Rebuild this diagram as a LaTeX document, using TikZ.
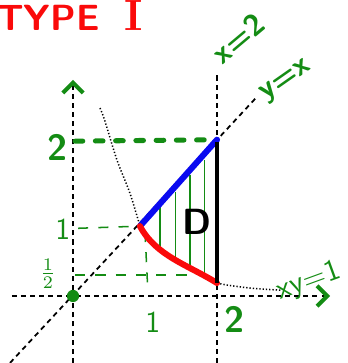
\documentclass[tikz,border=0pt]{standalone}
\usepackage{tikz}
\usetikzlibrary{arrows.meta,calc}
\definecolor{penG}{RGB}{20,140,20}
\definecolor{penR}{RGB}{250,10,10}
\definecolor{penB}{RGB}{10,10,240}

\begin{document}
\begin{tikzpicture}[
  font=\sffamily,
  axis/.style={black,line width=0.7pt,dash pattern=on 2pt off 1.6pt},
  curve/.style={black,line width=0.6pt,dash pattern=on 0.5pt off 0.8pt},
  guide/.style={penG,line width=0.6pt,dash pattern=on 4pt off 4pt},
  guidebold/.style={penG,line width=2pt,line cap=round,dash pattern=on 3pt off 5pt},
  hatch/.style={penG,line width=0.5pt},
  edge/.style={line width=2.4pt,line cap=round},
  tipG/.style={-{Straight Barb[length=4pt,width=8pt,line width=1.6pt,color=penG]}},
  lab/.style={text=penG,inner sep=1pt},
]
\useasboundingbox (-1.014,-0.931) rectangle (3.819,4.111);
% key points
\coordinate (O)   at (0,0);
\coordinate (yb)  at (0,-0.93);
\coordinate (yt)  at (0,3.0);
\coordinate (xl)  at (-0.85,0);
\coordinate (xr)  at (3.57,0);
\coordinate (vb)  at (2,-0.93);
\coordinate (vt)  at (2,3.11);
\coordinate (db)  at (-0.875,-0.93);
\coordinate (dt)  at (2.54,2.75);
\coordinate (P11) at (0.93,0.97);
\coordinate (P22) at (2,2.17);
\coordinate (Ph)  at (2,0.18);
% axes and the lines x=2, y=x
\draw[axis,tipG] (yb) -- (yt);
\draw[axis,tipG] (xl) -- (xr);
\draw[axis] (vb) -- (vt);
\draw[axis] (db) -- (dt);
% xy=1
\draw[curve] plot[smooth] coordinates {(0.375,2.61) (0.44,2.44) (0.61,1.89) (0.79,1.43) (P11)};
\draw[curve] plot[smooth] coordinates {(Ph) (2.15,0.15) (2.46,0.11) (2.88,0.08)};
% guides
\draw[guidebold] (0.03,2.15) -- (P22);
\draw[guide] (0.07,0.94) -- (P11);
\draw[guide] (0.03,0.29) -- (1.6,0.29);
\draw[guide] (1.0,0.89) -- (1.04,0.06);
% hatching of D
\foreach \x/\t/\b in {1.21/1.24/0.67, 1.42/1.44/0.53, 1.625/1.68/0.43, 1.83/1.89/0.32}{
  \draw[hatch] (\x,\t) -- (\x,\b);
}
% boundary of D
\draw[edge,penB] (P11) -- (P22);
\draw[edge,penR] (P11) to[out=-62,in=148,looseness=0.9] (Ph);
\draw[black,line width=1.6pt] (2,2.14) -- (Ph);
\fill[penG] (O) circle (0.085);
% labels
\node[lab,font=\sffamily\bfseries\large,rotate=40] (lx2) at (2.29,3.58) {x=2};
\node[lab,font=\sffamily\bfseries\large,rotate=35] (lyx) at (2.97,2.98) {y=x};
\node[lab,font=\sffamily\large,rotate=20] (lxy) at (3.28,0.2) {xy=1};
\node[lab,font=\sffamily\bfseries\Large] (ly2) at (-0.22,2.06) {2};
\node[lab,font=\sffamily\large] (ly1) at (-0.14,0.93) {1};
\node[lab,font=\sffamily] (lyh) at (-0.35,0.31) {$\frac{1}{2}$};
\node[lab,font=\sffamily\large] (lx1) at (1.11,-0.36) {1};
\node[lab,font=\sffamily\bfseries\Large] (lxt) at (2.25,-0.33) {2};
\node[inner sep=1pt,font=\sffamily\bfseries\Large] (lD) at (1.72,1.03) {D};
\node[text=penR,anchor=base west,inner sep=0pt,font=\sffamily\bfseries\Large] (ttl) at (-1.06,3.69) {TYPE\hspace{0.35cm}\textrm{\LARGE I}};
\end{tikzpicture}
\end{document}
